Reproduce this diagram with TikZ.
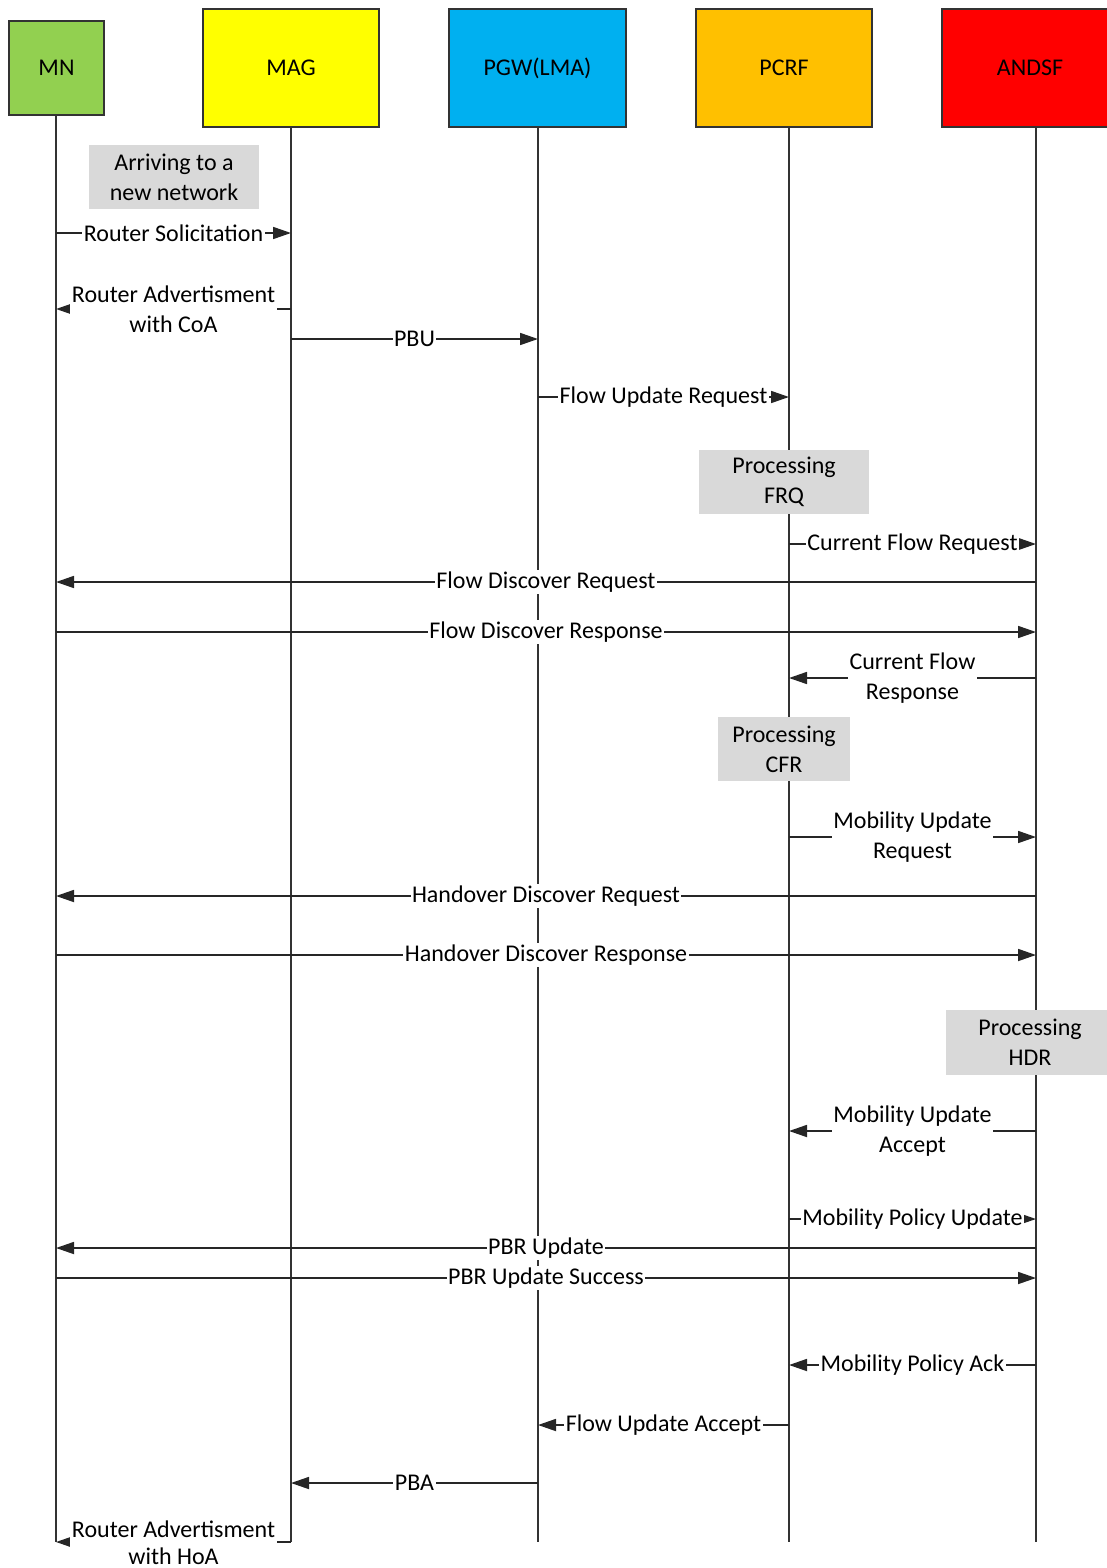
\documentclass[tikz,border=0pt]{standalone}
\usepackage{fontspec}
\setmainfont{Carlito}
\usetikzlibrary{arrows.meta}
\definecolor{mngreen}{HTML}{92D050}
\definecolor{magyellow}{HTML}{FFFF00}
\definecolor{pgwblue}{HTML}{00B0F0}
\definecolor{pcrforange}{HTML}{FFC000}
\definecolor{andsfred}{HTML}{FF0000}
\definecolor{procgray}{HTML}{D9D9D9}
\newcommand\lblfont{\fontsize{24}{30}\selectfont}
\newcommand\msgarrow[4]{\draw[msg] (#1 |- 0,#3) -- (#2 |- 0,#3) node[lbl,midway]{#4};}
\begin{document}
\begin{tikzpicture}[x=1pt,y=-1pt,
  actor/.style={draw=black!80, line width=1.8pt, font=\lblfont, text=black, inner sep=0pt},
  life/.style={line width=1.3pt, draw=black!80},
  msg/.style={line width=1.7pt, draw=black!85, -{Triangle[length=18pt,width=12pt]}},
  lbl/.style={fill=white, inner sep=1.5pt, text=black, font=\lblfont, align=center},
  proc/.style={fill=procgray, font=\lblfont, text=black, align=center, inner sep=0pt}]
\useasboundingbox (0,0) rectangle (1107,1568);
% actors
\node[actor, fill=mngreen, minimum width=95pt, minimum height=94pt] (mn) at (56.5,68) {MN};
\node[actor, fill=magyellow, minimum width=176pt, minimum height=118pt] (mag) at (291,68) {MAG};
\node[actor, fill=pgwblue, minimum width=177pt, minimum height=118pt] (pgw) at (537.5,68) {PGW(LMA)};
\node[actor, fill=pcrforange, minimum width=176pt, minimum height=118pt] (pcrf) at (784,68) {PCRF};
\node[actor, fill=andsfred, minimum width=176pt, minimum height=118pt] (andsf) at (1030,68) {ANDSF};
% lifeline tops
\coordinate (mnl) at (56,115);
\coordinate (magl) at (291,127);
\coordinate (pgwl) at (538,127);
\coordinate (pcrfl) at (789,127);
\coordinate (andsfl) at (1036,127);
\foreach \l in {mnl,magl,pgwl,pcrfl,andsfl}{\draw[life] (\l) -- (\l |- 0,1542);}
% processing boxes
\node[proc, minimum width=170pt, minimum height=64pt] (arr) at (174,177) {Arriving to a\\new network};
% messages
\msgarrow{mnl}{magl}{233}{Router Solicitation}
\msgarrow{magl}{mnl}{309}{Router Advertisment\\with CoA}
\msgarrow{magl}{pgwl}{339}{PBU}
\msgarrow{pgwl}{pcrfl}{397}{Flow Update Request}
\node[proc, minimum width=170pt, minimum height=64pt] (frq) at (784,482) {Processing\\FRQ};
\msgarrow{pcrfl}{andsfl}{544}{Current Flow Request}
\msgarrow{andsfl}{mnl}{582}{Flow Discover Request}
\msgarrow{mnl}{andsfl}{632}{Flow Discover Response}
\msgarrow{andsfl}{pcrfl}{678}{Current Flow\\Response}
\node[proc, minimum width=132pt, minimum height=64pt] (cfr) at (784,749) {Processing\\CFR};
\msgarrow{pcrfl}{andsfl}{837}{Mobility Update\\Request}
\msgarrow{andsfl}{mnl}{896}{Handover Discover Request}
\msgarrow{mnl}{andsfl}{955}{Handover Discover Response}
\node[proc, minimum width=168pt, minimum height=65pt] (hdr) at (1030,1042.5) {Processing\\HDR};
\msgarrow{andsfl}{pcrfl}{1131}{Mobility Update\\Accept}
\msgarrow{pcrfl}{andsfl}{1219}{Mobility Policy Update}
\msgarrow{andsfl}{mnl}{1248}{PBR Update}
\msgarrow{mnl}{andsfl}{1278}{PBR Update Success}
\msgarrow{andsfl}{pcrfl}{1365}{Mobility Policy Ack}
\msgarrow{pcrfl}{pgwl}{1425}{Flow Update Accept}
\msgarrow{pgwl}{magl}{1483}{PBA}
\draw[msg] (magl |- 0,1542) -- (mnl |- 0,1542)
  node[lbl,midway,yshift=-1pt,font=\fontsize{24}{27}\selectfont]{Router Advertisment\\with HoA};
\end{tikzpicture}
\end{document}
